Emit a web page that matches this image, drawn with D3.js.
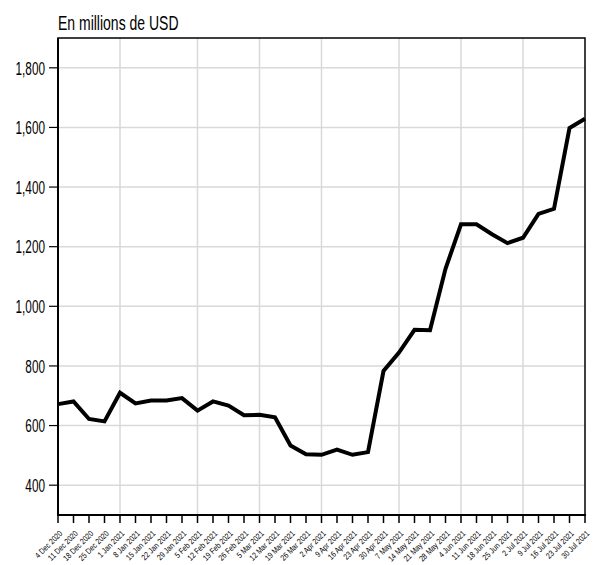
<!DOCTYPE html>
<html>
<head>
<meta charset="utf-8">
<script src="https://cdn.jsdelivr.net/npm/d3@7"></script>
<style>
  html, body { margin: 0; padding: 0; background: #fff; }
  svg { display: block; }
  text { font-family: "Liberation Sans", Arial, sans-serif; fill: #000; }
</style>
</head>
<body>
<svg id="chart" width="594" height="565"></svg>
<script>
const title = "En millions de USD";
const dates = ["4 Dec 2020","11 Dec 2020","18 Dec 2020","25 Dec 2020",
  "1 Jan 2021","8 Jan 2021","15 Jan 2021","22 Jan 2021","29 Jan 2021",
  "5 Feb 2021","12 Feb 2021","19 Feb 2021","26 Feb 2021",
  "5 Mar 2021","12 Mar 2021","19 Mar 2021","26 Mar 2021",
  "2 Apr 2021","9 Apr 2021","16 Apr 2021","23 Apr 2021","30 Apr 2021",
  "7 May 2021","14 May 2021","21 May 2021","28 May 2021",
  "4 Jun 2021","11 Jun 2021","18 Jun 2021","25 Jun 2021",
  "2 Jul 2021","9 Jul 2021","16 Jul 2021","23 Jul 2021","30 Jul 2021"];
const values = [672, 681, 622, 614, 710, 674, 684, 684, 692, 650, 681, 667, 635,
  636, 628, 533, 504, 502, 519, 502, 511, 783, 845, 921, 920, 1126,
  1275, 1275, 1242, 1212, 1230, 1310, 1327, 1598, 1629];
const yTicks = [400, 600, 800, 1000, 1200, 1400, 1600, 1800];
const yDomain = [300, 1900];
const monthGrid = ["1 Jan 2021","5 Feb 2021","5 Mar 2021","2 Apr 2021","7 May 2021","4 Jun 2021","2 Jul 2021"];

const svg = d3.select("#chart");
const L = 58, R = 585, T = 38, B = 515;

const x = d3.scalePoint().domain(dates).range([L, R]).padding(0);
const y = d3.scaleLinear().domain(yDomain).range([B, T]);

// gridlines
const grid = svg.append("g");
grid.selectAll("line.h").data(yTicks).join("line")
  .attr("x1", L).attr("x2", R)
  .attr("y1", d => y(d)).attr("y2", d => y(d))
  .attr("stroke", "#d9d9d9").attr("stroke-width", 1.5);
grid.selectAll("line.v").data(monthGrid).join("line")
  .attr("x1", d => x(d)).attr("x2", d => x(d))
  .attr("y1", T).attr("y2", B)
  .attr("stroke", "#d9d9d9").attr("stroke-width", 1.5);

// frame
svg.append("rect").attr("x", L).attr("y", T).attr("width", R - L).attr("height", B - T)
  .attr("fill", "none").attr("stroke", "#000").attr("stroke-width", 1.5);
svg.append("line").attr("x1", L).attr("x2", L).attr("y1", T).attr("y2", B)
  .attr("stroke", "#000").attr("stroke-width", 2);
svg.append("line").attr("x1", L - 1).attr("x2", R + 1).attr("y1", B).attr("y2", B)
  .attr("stroke", "#000").attr("stroke-width", 2);

// y axis ticks + labels
const fmt = d3.format(",");
const yg = svg.append("g");
yg.selectAll("line").data(yTicks).join("line")
  .attr("x1", L - 9).attr("x2", L)
  .attr("y1", d => y(d)).attr("y2", d => y(d))
  .attr("stroke", "#000").attr("stroke-width", 1.2);
yg.selectAll("g.lab").data(yTicks).join("g")
  .attr("transform", d => `translate(${L - 13},${y(d) + 6.8})`)
  .append("text")
  .attr("transform", "scale(0.62,1)")
  .attr("text-anchor", "end")
  .attr("font-size", 19)
  .text(d => fmt(d));

// x axis ticks + labels
const xg = svg.append("g");
xg.selectAll("line").data(dates).join("line")
  .attr("x1", d => x(d)).attr("x2", d => x(d))
  .attr("y1", B).attr("y2", B + 8)
  .attr("stroke", "#000").attr("stroke-width", 1.5);
xg.selectAll("g.lab").data(dates).join("g")
  .attr("transform", d => `translate(${x(d) + 5},${B + 19}) rotate(-45)`)
  .append("text")
  .attr("transform", "scale(0.83,1)")
  .attr("text-anchor", "end")
  .attr("font-size", 8.3)
  .text(d => d);

// line
const line = d3.line().x((d, i) => x(dates[i])).y(d => y(d));
svg.append("path").datum(values)
  .attr("d", line)
  .attr("fill", "none").attr("stroke", "#000")
  .attr("stroke-width", 4).attr("stroke-linejoin", "miter");

// title
svg.append("g").attr("transform", `translate(${L},30)`)
  .append("text").attr("transform", "scale(0.7,1)")
  .attr("font-size", 20).text(title);
</script>
</body>
</html>
